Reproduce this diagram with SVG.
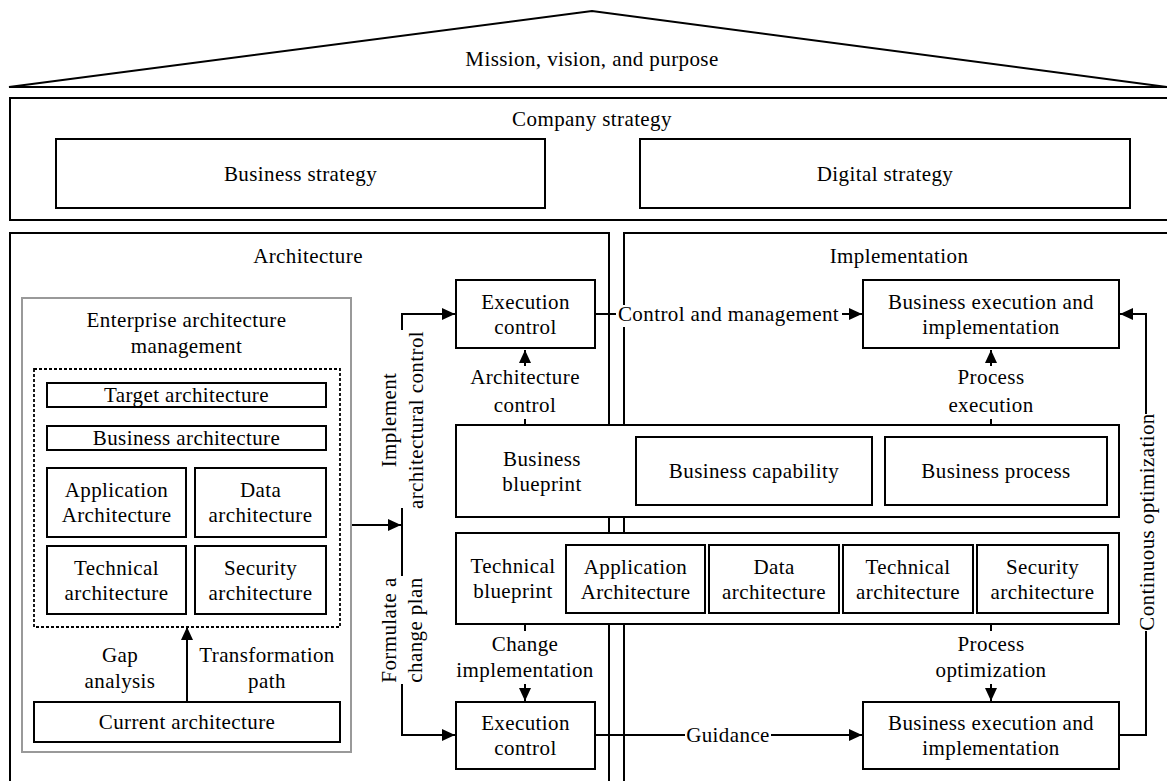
<svg xmlns="http://www.w3.org/2000/svg" width="1167" height="781" viewBox="0 0 1167 781">
<style>
  text { font-family: "Liberation Serif", "Times New Roman", serif; font-size: 21px; letter-spacing: 0.4px; fill: #000; text-anchor: middle; }
  .box { fill: #fff; stroke: #000; stroke-width: 2; }
  .frame { fill: none; stroke: #000; stroke-width: 2; }
  .gray { fill: #fff; stroke: #999; stroke-width: 2; }
  .dot { fill: none; stroke: #000; stroke-width: 1.8; stroke-dasharray: 3 2; }
  .line { fill: none; stroke: #000; stroke-width: 2; }
  .bg { fill: #fff; stroke: none; }
</style>
<defs>
  <marker id="arr" markerUnits="userSpaceOnUse" markerWidth="13" markerHeight="12" refX="13" refY="6" orient="auto">
    <path d="M0,0 L13,6 L0,12 Z" fill="#000"/>
  </marker>
</defs>

<!-- Roof -->
<g id="mission">
  <polygon points="9,87 592,11 1167,87" fill="#fff" stroke="#000" stroke-width="2" stroke-linejoin="miter"/>
  <text x="592" y="66">Mission, vision, and purpose</text>
</g>

<!-- Company strategy -->
<g id="company-strategy">
  <rect class="frame" x="10" y="98" width="1170" height="122"/>
  <text x="592" y="126">Company strategy</text>
</g>
<g id="business-strategy">
  <rect class="box" x="56" y="139" width="489" height="69"/>
  <text x="300.5" y="181">Business strategy</text>
</g>
<g id="digital-strategy">
  <rect class="box" x="640" y="139" width="490" height="69"/>
  <text x="885" y="181">Digital strategy</text>
</g>

<!-- Architecture / Implementation frames -->
<g id="architecture">
  <rect class="frame" x="10" y="233" width="599" height="570"/>
  <text x="308" y="263">Architecture</text>
</g>
<g id="implementation">
  <rect class="frame" x="624" y="233" width="570" height="570"/>
  <text x="899" y="263">Implementation</text>
</g>

<!-- EAM -->
<g id="eam">
  <rect class="gray" x="22" y="298" width="329" height="454"/>
  <text x="186.5" y="327">Enterprise architecture</text>
  <text x="186.5" y="353">management</text>
</g>
<g id="target-group">
  <rect class="dot" x="34" y="369" width="306" height="258"/>
</g>
<g id="target-architecture">
  <rect class="box" x="47" y="383" width="279" height="24"/>
  <text x="186.5" y="402">Target architecture</text>
</g>
<g id="business-architecture">
  <rect class="box" x="47" y="426" width="279" height="24"/>
  <text x="186.5" y="445">Business architecture</text>
</g>
<g id="eam-application">
  <rect class="box" x="47" y="468" width="139" height="69"/>
  <text x="116.5" y="497">Application</text>
  <text x="116.5" y="522">Architecture</text>
</g>
<g id="eam-data">
  <rect class="box" x="195" y="468" width="131" height="69"/>
  <text x="260.5" y="497">Data</text>
  <text x="260.5" y="522">architecture</text>
</g>
<g id="eam-technical">
  <rect class="box" x="47" y="546" width="139" height="68"/>
  <text x="116.5" y="574.5">Technical</text>
  <text x="116.5" y="599.5">architecture</text>
</g>
<g id="eam-security">
  <rect class="box" x="195" y="546" width="131" height="68"/>
  <text x="260.5" y="574.5">Security</text>
  <text x="260.5" y="599.5">architecture</text>
</g>
<g id="current-architecture">
  <rect class="box" x="34" y="702" width="306" height="40"/>
  <text x="187" y="729">Current architecture</text>
</g>

<!-- Execution control boxes -->
<g id="exec-control-top">
  <rect class="box" x="456" y="280" width="139" height="68"/>
  <text x="525.5" y="308.5">Execution</text>
  <text x="525.5" y="333.5">control</text>
</g>
<g id="exec-control-bottom">
  <rect class="box" x="456" y="702" width="139" height="67"/>
  <text x="525.5" y="730">Execution</text>
  <text x="525.5" y="755">control</text>
</g>

<!-- Business execution boxes -->
<g id="biz-exec-top">
  <rect class="box" x="863" y="280" width="256" height="68"/>
  <text x="991" y="308.5">Business execution and</text>
  <text x="991" y="333.5">implementation</text>
</g>
<g id="biz-exec-bottom">
  <rect class="box" x="863" y="702" width="256" height="67"/>
  <text x="991" y="730">Business execution and</text>
  <text x="991" y="755">implementation</text>
</g>

<!-- Business blueprint -->
<g id="business-blueprint">
  <rect class="box" x="456" y="425" width="663" height="92"/>
  <text x="542" y="466">Business</text>
  <text x="542" y="491">blueprint</text>
</g>
<g id="business-capability">
  <rect class="box" x="636" y="437" width="236" height="68"/>
  <text x="754" y="478">Business capability</text>
</g>
<g id="business-process">
  <rect class="box" x="885" y="437" width="222" height="68"/>
  <text x="996" y="478">Business process</text>
</g>

<!-- Technical blueprint -->
<g id="technical-blueprint">
  <rect class="box" x="456" y="533" width="663" height="91"/>
  <text x="513" y="573">Technical</text>
  <text x="513" y="598">blueprint</text>
</g>
<g id="tb-application">
  <rect class="box" x="566" y="545" width="139" height="68"/>
  <text x="635.5" y="573.5">Application</text>
  <text x="635.5" y="598.5">Architecture</text>
</g>
<g id="tb-data">
  <rect class="box" x="709" y="545" width="130" height="68"/>
  <text x="774" y="573.5">Data</text>
  <text x="774" y="598.5">architecture</text>
</g>
<g id="tb-technical">
  <rect class="box" x="843" y="545" width="130" height="68"/>
  <text x="908" y="573.5">Technical</text>
  <text x="908" y="598.5">architecture</text>
</g>
<g id="tb-security">
  <rect class="box" x="977" y="545" width="131" height="68"/>
  <text x="1042.5" y="573.5">Security</text>
  <text x="1042.5" y="598.5">architecture</text>
</g>

<!-- Connectors -->
<g id="connectors">
  <path class="line" d="M187,702 V627" marker-end="url(#arr)"/>
  <path class="line" d="M352,525 H401" marker-end="url(#arr)"/>
  <path class="line" d="M402,330 V314 H455" marker-end="url(#arr)"/>
  <path class="line" d="M402,508 V576"/>
  <path class="line" d="M402,684 V735 H455" marker-end="url(#arr)"/>
  <path class="line" d="M595,314 H862" marker-end="url(#arr)"/>
  <path class="line" d="M595,735 H862" marker-end="url(#arr)"/>
  <path class="line" d="M525,425 V350" marker-end="url(#arr)"/>
  <path class="line" d="M525,624 V701" marker-end="url(#arr)"/>
  <path class="line" d="M991,425 V350" marker-end="url(#arr)"/>
  <path class="line" d="M991,624 V701" marker-end="url(#arr)"/>
  <path class="line" d="M1119,735 H1146 V314 H1120" marker-end="url(#arr)"/>
</g>

<!-- Connector labels -->
<g id="labels">
  <text x="120" y="662">Gap</text>
  <text x="120" y="688">analysis</text>
  <text x="267" y="662">Transformation</text>
  <text x="267" y="688">path</text>

  <text transform="translate(395.5,420) rotate(-90)">Implement</text>
  <text transform="translate(423,420) rotate(-90)">architectural control</text>
  <text transform="translate(395.5,630) rotate(-90)">Formulate a</text>
  <text transform="translate(422,630) rotate(-90)">change plan</text>

  <rect class="bg" x="616" y="305" width="226" height="22"/>
  <text x="728.5" y="321">Control and management</text>
  <rect class="bg" x="685" y="725" width="86" height="21"/>
  <text x="728" y="742">Guidance</text>

  <rect class="bg" x="465" y="366" width="122" height="53"/>
  <text x="525" y="384">Architecture</text>
  <text x="525" y="412">control</text>
  <rect class="bg" x="456" y="631" width="138" height="53"/>
  <text x="525" y="651">Change</text>
  <text x="525" y="677">implementation</text>

  <rect class="bg" x="940" y="366" width="102" height="53"/>
  <text x="991" y="384">Process</text>
  <text x="991" y="412">execution</text>
  <rect class="bg" x="925" y="631" width="132" height="53"/>
  <text x="991" y="651">Process</text>
  <text x="991" y="677">optimization</text>

  <rect class="bg" x="1136" y="414" width="24" height="217"/>
  <text transform="translate(1154,522) rotate(-90)">Continuous optimization</text>
</g>
</svg>
